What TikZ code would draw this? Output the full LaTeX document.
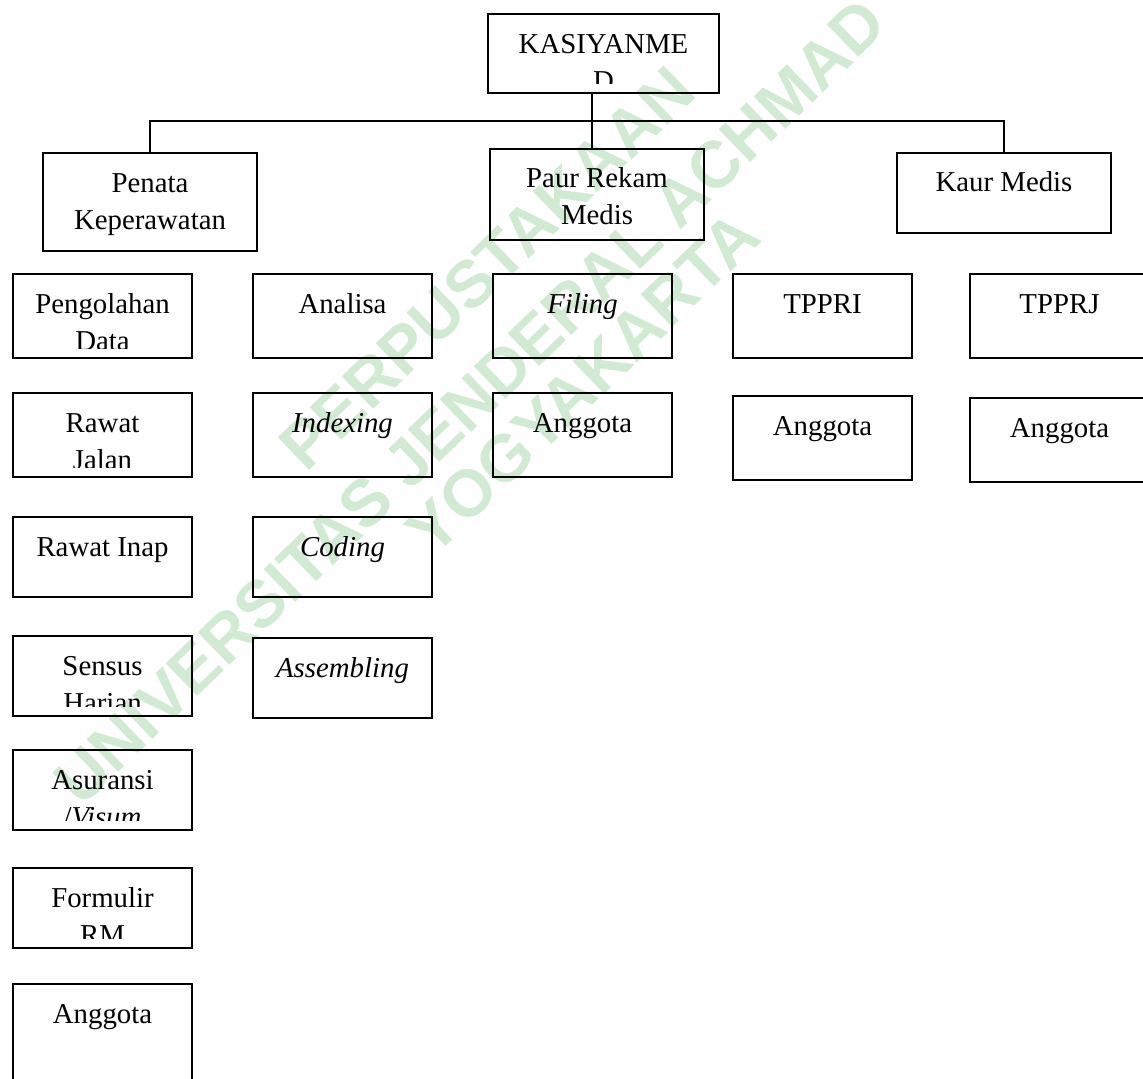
\documentclass[tikz,border=0pt]{standalone}
\usepackage{fontspec}
\setmainfont{Liberation Serif}
\newfontfamily\stampfont{Liberation Sans}
\usetikzlibrary{positioning}
\definecolor{stampgreen}{RGB}{208,235,209}
\tikzset{%
  unit/.style = {rectangle,draw,line width=1pt,inner sep=0pt,
        minimum width=89.5pt,align=center,text height=19.5pt,
        text depth=22.5pt},
  unitpair/.style = {unit,text height=38pt,text depth=4pt},
  slim/.style = {unit,text depth=20.5pt},
  slimpair/.style = {unit,text height=38pt,text depth=2pt},
  head/.style = {unit,minimum width=107pt},
  cut/.style 2 args = {path picture={
        \clip ([yshift=5pt]path picture bounding box.south west)
              rectangle (path picture bounding box.north east);
        \node[align=center,inner sep=0pt,anchor=base] (#1)
              at ([yshift=-38pt]path picture bounding box.north) {#2};}},
  link/.style = {line width=0.9pt},
  stamp/.style = {text=stampgreen,inner sep=0pt,rotate=44,
        font=\stampfont\bfseries\fontsize{33}{33}\selectfont}
}

\begin{document}
\begin{tikzpicture}[x=0.5pt,y=-0.5pt,node distance=17.5pt and 29.5pt]\fontsize{14.4}{18.5}\selectfont
   \useasboundingbox (0,0) rectangle (1143,1078);

   % watermark
   \node[stamp] (wm-top) at (487,268) {PERPUSTAKAAN};
   \node[stamp] (wm-mid) at (470,402) {UNIVERSITAS JENDERAL ACHMAD};
   \node[stamp] (wm-low) at (583,383) {YOGYAKARTA};

   \node[head,minimum width=115.5pt,text height=38pt,text depth=1.5pt,
         cut={kasi-text}{KASIYANME\\D},anchor=north west] (kasi) at (487,13) {};
   \node[head,text height=37.5pt,text depth=8pt,anchor=north west]
         (paur) at (489,148) {Paur Rekam\\Medis};
   \node[head,text height=38pt,text depth=11pt,anchor=north west]
         (penata) at (42,152) {Penata\\Keperawatan};
   \node[head,text height=19pt,text depth=21pt,anchor=north west]
         (kaur) at (896,152) {Kaur Medis};
   \coordinate (bus) at (592,121);

   \node[unitpair,cut={pengolahan-text}{Pengolahan\\Data},anchor=north west]
         (pengolahan) at (12,273) {};
   \node[unit] (analisa) [right=of pengolahan] {Analisa};
   \node[unit] (filing) [right=of analisa] {\textit{Filing}};
   \node[unit] (tppri) [right=of filing] {TPPRI};
   \node[unit] (tpprj) [right=28pt of tppri] {TPPRJ};

   \node[unitpair,cut={rawat-jalan-text}{Rawat\\Jalan}] (rawat-jalan)
         [below=16.5pt of pengolahan] {};
   \node[slim] (rawat-inap) [below=19pt of rawat-jalan] {Rawat Inap};
   \node[slimpair,cut={sensus-text}{Sensus\\Harian}] (sensus)
         [below=18.5pt of rawat-inap] {};
   \node[slimpair,cut={asuransi-text}{Asuransi\\/\textit{Visum}}] (asuransi)
         [below=16pt of sensus] {};
   \node[slimpair,cut={formulir-text}{Formulir\\RM}] (formulir)
         [below=18pt of asuransi] {};
   \node[slim,text depth=38.5pt] (anggota) [below=17pt of formulir] {Anggota};

   \node[unit] (indexing) [below=16.5pt of analisa] {\textit{Indexing}};
   \node[slim] (coding) [below=19pt of indexing] {\textit{Coding}};
   \node[slim] (assembling) [below=19.5pt of coding] {\textit{Assembling}};

   \node[unit] (filing-anggota) [below=16.5pt of filing] {Anggota};
   \node[unit] (tppri-anggota) [below=18pt of tppri] {Anggota};
   \node[unit] (tpprj-anggota) [below=19pt of tpprj] {Anggota};

   \draw[link] (kasi.south -| bus) -- (paur.north -| bus);
   \draw[link] (penata.north) |- (bus) -| (kaur.north);
\end{tikzpicture}
\end{document}
